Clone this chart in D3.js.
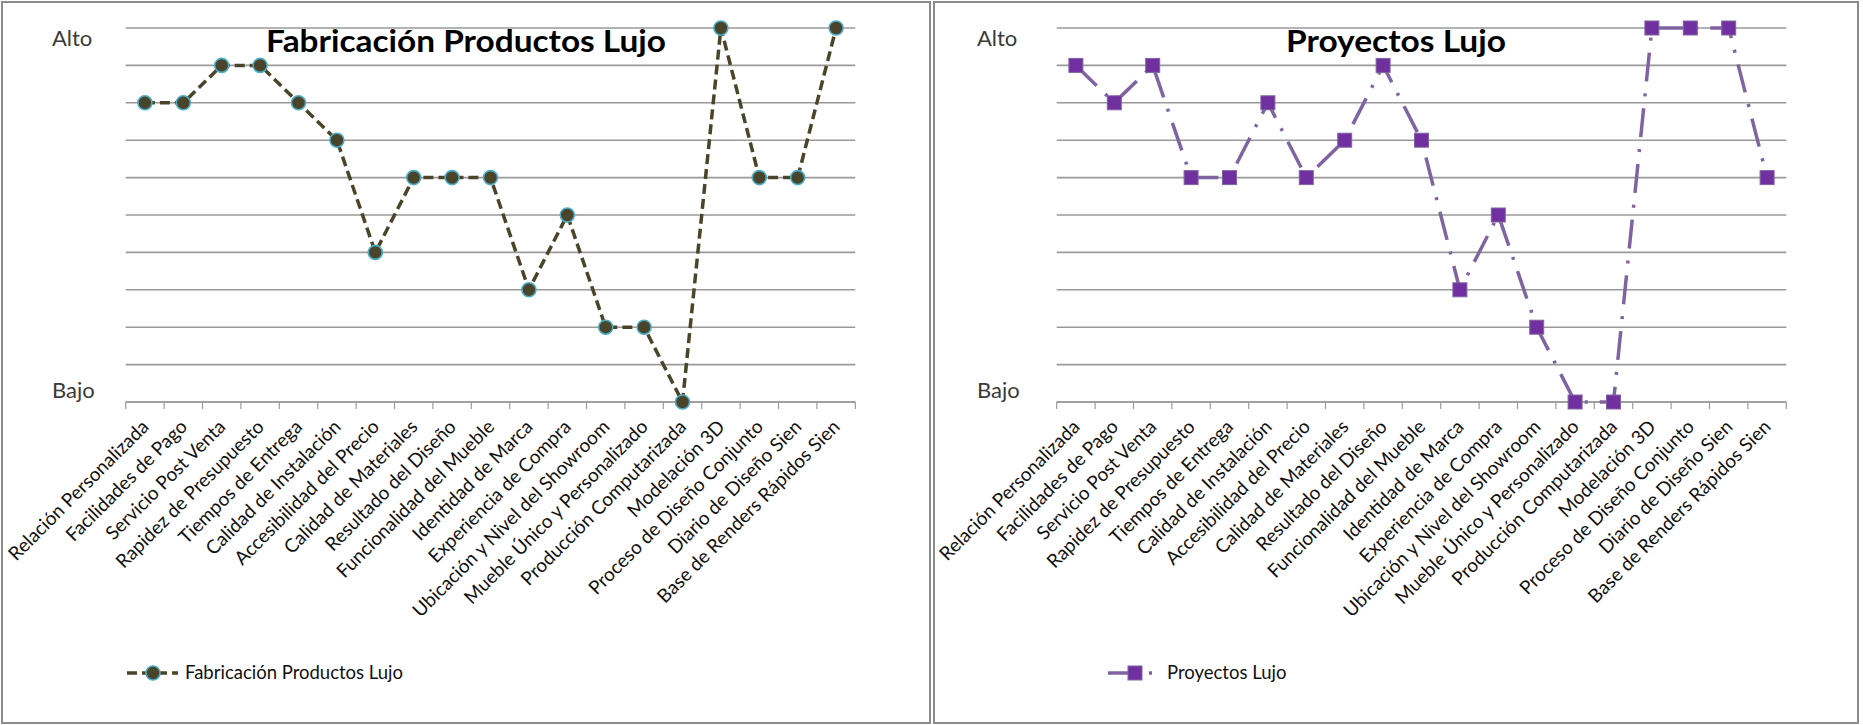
<!DOCTYPE html>
<html lang="es">
<head>
<meta charset="utf-8">
<script src="https://cdn.jsdelivr.net/npm/d3@7"></script>
<style>
  html, body { margin: 0; padding: 0; background: #ffffff; }
  svg { display: block; }
  text { font-family: Lato, "Open Sans", "DejaVu Sans", sans-serif; }
</style>
</head>
<body>
<svg id="chart" width="1863" height="725"></svg>
<script>
// Atributos evaluados (eje de categorías)
const categorias = [
  "Relación Personalizada", "Facilidades de Pago", "Servicio Post Venta",
  "Rapidez de Presupuesto", "Tiempos de Entrega", "Calidad de Instalación",
  "Accesibilidad del Precio", "Calidad de Materiales", "Resultado del Diseño",
  "Funcionalidad del Mueble", "Identidad de Marca", "Experiencia de Compra",
  "Ubicación y Nivel del Showroom", "Mueble Único y Personalizado",
  "Producción Computarizada", "Modelación 3D", "Proceso de Diseño Conjunto",
  "Diario de Diseño Sien", "Base de Renders Rápidos Sien"
];

// Valoración de cada atributo (0 = Bajo, 10 = Alto)
const fabricacionLujo = [8, 8, 9, 9, 8, 7, 4, 6, 6, 6, 3, 5, 2, 2, 0, 10, 6, 6, 10];
const proyectosLujo   = [9, 8, 9, 6, 6, 8, 6, 7, 9, 7, 3, 5, 2, 0, 0, 10, 10, 10, 6];

// Escala vertical y sus rótulos
const escalaMin = 0;
const escalaMax = 10;
const rotulosEscala = ["Bajo", "Alto"];

const svg = d3.select("#chart");

function dibujarPanel(cfg) {
  const g = svg.append("g");

  // Marco del panel
  g.append("rect")
    .attr("x", cfg.panel[0]).attr("y", 2)
    .attr("width", cfg.panel[1] - cfg.panel[0]).attr("height", 721)
    .attr("fill", "#ffffff")
    .attr("stroke", "#8c8c8c").attr("stroke-width", 2);

  const x = d3.scaleBand().domain(categorias).range([cfg.x0, cfg.x1]).padding(0);
  const y = d3.scaleLinear().domain([escalaMin, escalaMax]).range([402, 28]);
  const cx = d => x(d) + x.bandwidth() / 2;

  // Líneas de división horizontales
  g.append("g")
    .selectAll("line")
    .data(d3.range(escalaMin, escalaMax + 1))
    .join("line")
    .attr("x1", cfg.x0).attr("x2", cfg.x1)
    .attr("y1", d => y(d)).attr("y2", d => y(d))
    .attr("stroke", "#9a9a9a").attr("stroke-width", 1.6);

  // Eje de categorías con marcas entre categorías
  const eje = g.append("g").attr("transform", "translate(0,402)");
  eje.append("line")
    .attr("x1", cfg.x0).attr("x2", cfg.x1)
    .attr("stroke", "#9a9a9a").attr("stroke-width", 1.6);
  const bordes = categorias.map(c => x(c)).concat([cfg.x1]);
  eje.selectAll("line.tick")
    .data(bordes)
    .join("line")
    .attr("class", "tick")
    .attr("x1", d => d).attr("x2", d => d)
    .attr("y1", 0).attr("y2", 7)
    .attr("stroke", "#9a9a9a").attr("stroke-width", 1.2);

  // Rótulos de categorías inclinados
  g.append("g")
    .selectAll("text")
    .data(categorias)
    .join("text")
    .attr("transform", d => `translate(${cx(d) + 5},${428}) rotate(-45)`)
    .attr("text-anchor", "end")
    .attr("font-size", 19)
    .attr("fill", "#111111")
    .text(d => d);

  // Rótulos de la escala
  g.append("text")
    .attr("x", cfg.altoX).attr("y", 46)
    .attr("font-size", 22).attr("fill", "#3a3a3a")
    .text(rotulosEscala[1]);
  g.append("text")
    .attr("x", cfg.altoX).attr("y", 398)
    .attr("font-size", 22).attr("fill", "#3a3a3a")
    .text(rotulosEscala[0]);

  // Serie
  const linea = d3.line()
    .x((d, i) => cx(categorias[i]))
    .y(d => y(d));

  g.append("path")
    .datum(cfg.valores)
    .attr("d", linea)
    .attr("fill", "none")
    .attr("stroke", cfg.colorLinea)
    .attr("stroke-width", 3.5)
    .attr("stroke-dasharray", cfg.trazo);

  const marcas = g.append("g");
  if (cfg.marca === "circulo") {
    marcas.selectAll("circle")
      .data(cfg.valores)
      .join("circle")
      .attr("cx", (d, i) => cx(categorias[i]))
      .attr("cy", d => y(d))
      .attr("r", 7)
      .attr("fill", cfg.colorMarca)
      .attr("stroke", cfg.bordeMarca).attr("stroke-width", 1.6);
  } else {
    marcas.selectAll("rect")
      .data(cfg.valores)
      .join("rect")
      .attr("x", (d, i) => cx(categorias[i]) - 7)
      .attr("y", d => y(d) - 7)
      .attr("width", 14).attr("height", 14)
      .attr("fill", cfg.colorMarca)
      .attr("stroke", cfg.bordeMarca).attr("stroke-width", 1);
  }

  // Título
  g.append("text")
    .attr("x", (cfg.panel[0] + cfg.panel[1]) / 2).attr("y", 52)
    .attr("text-anchor", "middle")
    .attr("font-size", 31).attr("font-weight", "bold")
    .attr("fill", "#000000")
    .attr("textLength", cfg.anchoTitulo)
    .attr("lengthAdjust", "spacingAndGlyphs")
    .text(cfg.titulo);

  // Leyenda
  const ley = g.append("g");
  ley.append("line")
    .attr("x1", cfg.leyenda.x0).attr("x2", cfg.leyenda.x1)
    .attr("y1", 673).attr("y2", 673)
    .attr("stroke", cfg.colorLinea).attr("stroke-width", 3.5)
    .attr("stroke-dasharray", cfg.trazo);
  if (cfg.marca === "circulo") {
    ley.append("circle")
      .attr("cx", cfg.leyenda.marca).attr("cy", 673).attr("r", 7)
      .attr("fill", cfg.colorMarca)
      .attr("stroke", cfg.bordeMarca).attr("stroke-width", 1.6);
  } else {
    ley.append("rect")
      .attr("x", cfg.leyenda.marca - 7).attr("y", 666)
      .attr("width", 14).attr("height", 14)
      .attr("fill", cfg.colorMarca)
      .attr("stroke", cfg.bordeMarca).attr("stroke-width", 1);
  }
  ley.append("text")
    .attr("x", cfg.leyenda.texto).attr("y", 679)
    .attr("font-size", 18.5).attr("fill", "#111111")
    .text(cfg.titulo);
}

dibujarPanel({
  panel: [2, 930],
  x0: 125.7, x1: 855.3,
  altoX: 52,
  valores: fabricacionLujo,
  titulo: "Fabricación Productos Lujo",
  anchoTitulo: 400,
  colorLinea: "#4a452a",
  colorMarca: "#4a452a",
  bordeMarca: "#4bacc6",
  trazo: "10,5",
  marca: "circulo",
  leyenda: { x0: 127, x1: 178, marca: 153, texto: 185 }
});

dibujarPanel({
  panel: [934, 1858],
  x0: 1056.7, x1: 1786.3,
  altoX: 977,
  valores: proyectosLujo,
  titulo: "Proyectos Lujo",
  anchoTitulo: 220,
  colorLinea: "#8064a2",
  colorMarca: "#7030a0",
  bordeMarca: "#8064a2",
  trazo: "29,12,3,12",
  marca: "cuadro",
  leyenda: { x0: 1108, x1: 1160, marca: 1135, texto: 1167 }
});
</script>
</body>
</html>
